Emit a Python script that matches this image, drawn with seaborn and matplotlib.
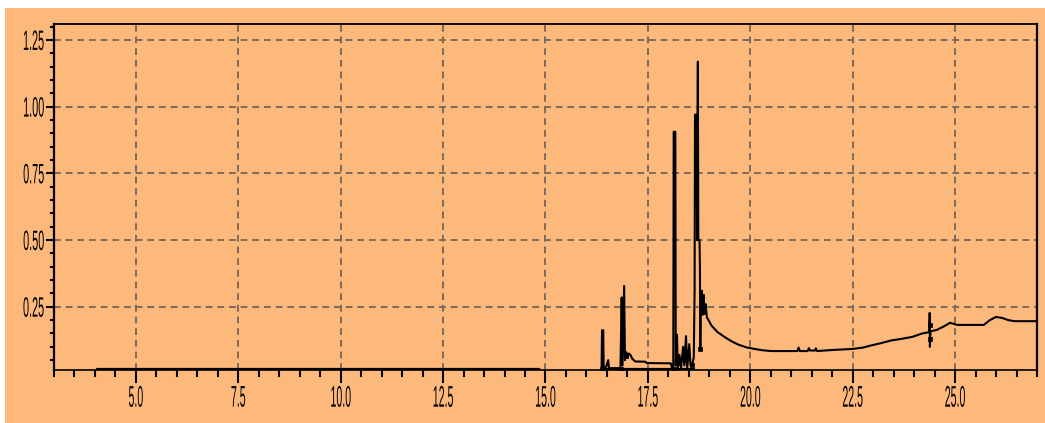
import numpy as np
import pandas as pd
import matplotlib
matplotlib.use("Agg")
import matplotlib.pyplot as plt
from matplotlib.patches import Rectangle
from matplotlib.patheffects import AbstractPathEffect
from matplotlib.transforms import Affine2D
from matplotlib.ticker import MultipleLocator
import seaborn as sns

# Chromatogram trace: retention time (min) and detector response
retention_time = [
    4.05, 14.85, 14.86, 16.36, 16.37, 16.38, 16.41, 16.42, 16.48, 16.53,
    16.55, 16.83, 16.86, 16.88, 16.92, 16.94, 16.97, 17.00, 17.03, 17.07,
    17.12, 17.19, 17.44, 17.47, 18.06, 18.09, 18.12, 18.13, 18.17, 18.18,
    18.21, 18.23, 18.27, 18.31, 18.36, 18.39, 18.43, 18.46, 18.51, 18.54,
    18.58, 18.62, 18.64, 18.65, 18.69, 18.70, 18.72, 18.73, 18.76, 18.77,
    18.78, 18.79, 18.82, 18.84, 18.86, 18.88, 18.91, 18.94, 18.98, 19.05,
    19.20, 19.39, 19.55, 19.71, 19.90, 20.10, 20.30, 20.50, 21.15, 21.18,
    21.21, 21.40, 21.43, 21.46, 21.58, 21.60, 21.63, 22.00, 22.50, 22.75,
    22.95, 23.20, 23.45, 23.70, 23.95, 24.20, 24.37, 24.38, 24.385, 24.40,
    24.55, 24.72, 24.88, 25.05, 25.70, 25.85, 26.00, 26.15, 26.30, 26.45,
    27.00,
]
response = [
    0.017, 0.017, -0.03, -0.03, 0.02, 0.162, 0.162, 0.02, 0.025, 0.05,
    0.02, 0.02, 0.285, 0.03, 0.328, 0.05, 0.08, 0.06, 0.075, 0.07,
    0.055, 0.045, 0.044, 0.039, 0.038, 0.02, 0.02, 0.906, 0.906, 0.03,
    0.145, 0.02, 0.07, 0.02, 0.10, 0.03, 0.14, 0.02, 0.11, 0.03,
    0.03, 0.06, 0.31, 0.97, 0.97, 0.50, 1.169, 0.50, 0.50, 0.40,
    0.09, 0.28, 0.31, 0.22, 0.29, 0.23, 0.26, 0.21, 0.20, 0.18,
    0.155, 0.135, 0.12, 0.108, 0.098, 0.092, 0.087, 0.084, 0.084, 0.097,
    0.084, 0.084, 0.095, 0.086, 0.086, 0.094, 0.084, 0.088, 0.092, 0.097,
    0.105, 0.114, 0.124, 0.130, 0.137, 0.150, 0.155, 0.227, 0.10, 0.158,
    0.163, 0.176, 0.190, 0.182, 0.182, 0.200, 0.212, 0.208, 0.200, 0.196,
    0.196,
]

# Integration baseline drawn under the peak cluster
baseline_start = [16.38]
baseline_end = [18.64]
baseline_level = [0.017]

# Peak start / apex / end marks placed by the integrator
mark_time = [16.39, 16.85, 16.96, 18.14, 18.25, 18.40, 18.58, 18.78, 18.81, 18.85, 24.38, 24.38]
mark_response = [0.018, 0.018, 0.065, 0.018, 0.04, 0.05, 0.03, 0.09, 0.29, 0.23, 0.18, 0.13]

x_ticks = [5.0, 7.5, 10.0, 12.5, 15.0, 17.5, 20.0, 22.5, 25.0]
x_tick_labels = ["5.0", "7.5", "10.0", "12.5", "15.0", "17.5", "20.0", "22.5", "25.0"]
y_ticks = [0.25, 0.50, 0.75, 1.00, 1.25]
y_tick_labels = ["0.25", "0.50", "0.75", "1.00", "1.25"]

BG = "#FDB97C"
GRID = "#7d6a58"


class Squeeze(AbstractPathEffect):
    """Draw text narrowed and stretched, keeping one edge or the centre fixed."""

    def __init__(self, sx, sy, xanchor="center", yanchor="center"):
        super().__init__()
        self.sx = sx
        self.sy = sy
        self.xanchor = xanchor
        self.yanchor = yanchor

    def draw_path(self, renderer, gc, tpath, affine, rgbFace=None):
        ext = tpath.get_extents()
        pts = affine.transform([[ext.x0, ext.y0], [ext.x1, ext.y1]])
        xs = sorted([pts[0][0], pts[1][0]])
        ys = sorted([pts[0][1], pts[1][1]])
        ax_ = {"left": xs[0], "right": xs[1]}.get(self.xanchor, 0.5 * (xs[0] + xs[1]))
        ay_ = {"bottom": ys[0], "top": ys[1]}.get(self.yanchor, 0.5 * (ys[0] + ys[1]))
        new = Affine2D(affine.get_matrix().copy())
        new.translate(-ax_, -ay_).scale(self.sx, self.sy).translate(ax_, ay_)
        renderer.draw_path(gc, tpath, new, rgbFace)


sns.set_theme(style="ticks")
plt.rcParams["font.family"] = ["Liberation Sans", "DejaVu Sans"]

trace = pd.DataFrame({"time": retention_time, "signal": response})
marks = pd.DataFrame({"time": mark_time, "signal": mark_response})

fig = plt.figure(figsize=(10.45, 4.23), dpi=100, facecolor=BG)
ax = fig.add_axes([54 / 1045, 1 - 370 / 423, (1037 - 54) / 1045, (370 - 24) / 423])
ax.set_facecolor(BG)

# white margin along the top and left edges
fig.patches.append(Rectangle((0, 1 - 8 / 423), 1, 8 / 423, transform=fig.transFigure,
                             facecolor="white", edgecolor="none", zorder=-1))
fig.patches.append(Rectangle((0, 0), 5 / 1045, 1, transform=fig.transFigure,
                             facecolor="white", edgecolor="none", zorder=-1))

ax.set_axisbelow(True)
ax.grid(True, which="major", linestyle=(0, (3.5, 2.5)), color=GRID, linewidth=1.4)

ax.hlines(baseline_level, baseline_start, baseline_end, color="black", linewidth=1.6, zorder=3)
sns.lineplot(data=trace, x="time", y="signal", estimator=None, sort=False,
             color="black", linewidth=1.5, ax=ax, zorder=4)
sns.scatterplot(data=marks, x="time", y="signal", marker="s", s=12, color="black",
                edgecolor="black", linewidth=0.5, ax=ax, zorder=5)

ax.set_xlim(3.0, 27.0)
ax.set_ylim(0.013, 1.31)
ax.set_xlabel("")
ax.set_ylabel("")

ax.set_xticks(x_ticks)
ax.set_xticklabels(x_tick_labels)
ax.set_yticks(y_ticks)
ax.set_yticklabels(y_tick_labels)
ax.xaxis.set_minor_locator(MultipleLocator(0.5))
ax.yaxis.set_minor_locator(MultipleLocator(0.05))

for side, lw in [("left", 1.6), ("right", 1.6), ("top", 1.3), ("bottom", 1.2)]:
    ax.spines[side].set_visible(True)
    ax.spines[side].set_color("black")
    ax.spines[side].set_linewidth(lw)

ax.tick_params(axis="x", which="major", direction="out", length=9.5, width=1.5,
               color="black", pad=2.0, labelsize=12.5, labelcolor="black")
ax.tick_params(axis="x", which="minor", direction="out", length=4.8, width=1.5, color="black")
ax.tick_params(axis="y", which="major", direction="out", length=5.5, width=1.5,
               color="black", pad=1.5, labelsize=12, labelcolor="black")
ax.tick_params(axis="y", which="minor", direction="out", length=3.0, width=1.5, color="black")

for lbl in ax.get_xticklabels():
    lbl.set_path_effects([Squeeze(0.61, 1.72, "center", "top")])
for lbl in ax.get_yticklabels():
    lbl.set_path_effects([Squeeze(0.65, 1.68, "right", "center")])

fig.savefig("out.png", dpi=100, facecolor=BG)
